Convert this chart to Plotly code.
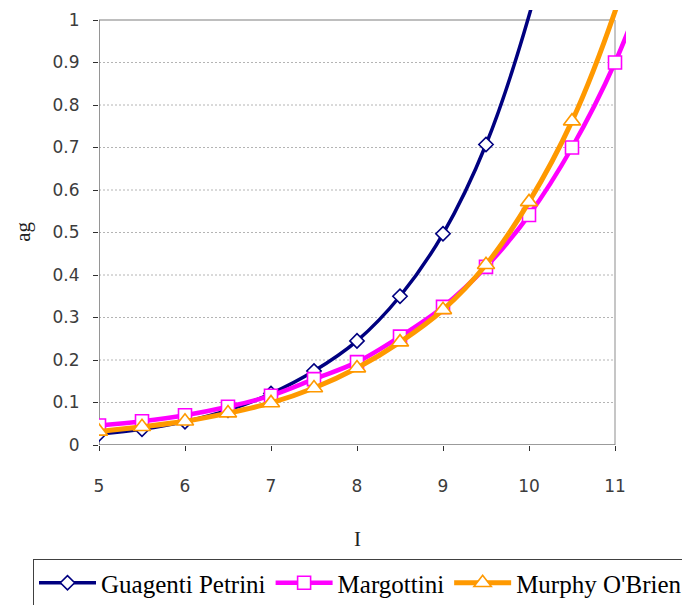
import plotly.graph_objects as go

# Macroseismic intensity I and peak ground acceleration ag (g)
intensity = [5.0, 5.5, 6.0, 6.5, 7.0, 7.5, 8.0, 8.5, 9.0, 9.5, 10.0, 10.5, 11.0, 11.5]

guagenti_petrini = [0.026, 0.037, 0.055, 0.082, 0.121, 0.174, 0.245, 0.350, 0.497, 0.707, 1.01, 1.42, 2.00, 2.84]
margottini = [0.046, 0.056, 0.070, 0.090, 0.116, 0.155, 0.195, 0.255, 0.325, 0.419, 0.541, 0.700, 0.900, 1.16]
murphy_obrien = [0.032, 0.043, 0.056, 0.075, 0.099, 0.134, 0.181, 0.242, 0.318, 0.424, 0.572, 0.762, 1.02, 1.36]

x_ticks = [5, 6, 7, 8, 9, 10, 11]
y_ticks = [0, 0.1, 0.2, 0.3, 0.4, 0.5, 0.6, 0.7, 0.8, 0.9, 1]

series = [
    ("Guagenti Petrini", guagenti_petrini, "#000080", 3.5, "diamond", 11),
    ("Margottini", margottini, "#FF00FF", 4.5, "square", 13),
    ("Murphy O'Brien", murphy_obrien, "#FF9900", 5, "triangle-up", 15),
]

X_MIN, X_MAX = 5, 11
Y_MIN, Y_MAX = 0, 1

# page geometry (px)
W, H = 682, 605
ML, MT, MB = 99, 10, 160
PLOT_W = 527          # drawing width of the x axis
GS_W = W - ML         # full plotting box width (right margin 0)

fig = go.Figure()
for name, vals, color, lw, sym, size in series:
    # markers are only shown inside the 0..1 frame
    fill = ["white" if v <= Y_MAX else "rgba(0,0,0,0)" for v in vals]
    edge = [color if v <= Y_MAX else "rgba(0,0,0,0)" for v in vals]
    fig.add_trace(go.Scatter(
        x=intensity, y=vals, name=name, mode="lines+markers",
        line=dict(color=color, width=lw, shape="spline", smoothing=1),
        marker=dict(symbol=sym, size=size, color=fill,
                    line=dict(color=edge, width=1.6)),
    ))

shapes = []
# dotted gridlines
for v in y_ticks[1:-1]:
    shapes.append(dict(type="line", xref="x", yref="y", x0=X_MIN, x1=X_MAX, y0=v, y1=v,
                       line=dict(color="#b4b4b4", width=1, dash="2px,2px"), layer="below"))
# frame
shapes.append(dict(type="line", xref="x", yref="y", x0=X_MIN, x1=X_MAX, y0=Y_MAX, y1=Y_MAX,
                   line=dict(color="#a8a8a8", width=1.3), layer="below"))
shapes.append(dict(type="line", xref="x", yref="y", x0=X_MAX, x1=X_MAX, y0=Y_MIN, y1=Y_MAX,
                   line=dict(color="#a8a8a8", width=1.3), layer="below"))
shapes.append(dict(type="line", xref="x", yref="y", x0=X_MIN, x1=X_MIN, y0=Y_MIN, y1=Y_MAX,
                   line=dict(color="#7a7a7a", width=1.6), layer="below"))
shapes.append(dict(type="line", xref="x", yref="y", x0=X_MIN, x1=X_MAX, y0=Y_MIN, y1=Y_MIN,
                   line=dict(color="#7a7a7a", width=1.6), layer="below"))

tick_font = dict(family="DejaVu Sans", size=17, color="#3c3c3c")
serif = "Liberation Serif"

fig.update_layout(
    width=W, height=H,
    font=dict(family=serif, color="black"),
    margin=dict(l=ML, r=0, t=MT, b=MB, autoexpand=False),
    paper_bgcolor="white", plot_bgcolor="white",
    shapes=shapes,
    showlegend=True,
    legend=dict(
        orientation="h", x=(33 - ML) / GS_W, y=(H - MB - 559) / (H - MB - MT),
        xanchor="left", yanchor="top",
        font=dict(family=serif, size=25, color="black"),
        bordercolor="#404040", borderwidth=1, bgcolor="white",
        itemwidth=57, tracegroupgap=0,
    ),
    xaxis=dict(
        domain=[0, PLOT_W / GS_W],
        range=[5, 5 + PLOT_W / 86], tickvals=x_ticks, ticktext=[str(t) for t in x_ticks],
        showgrid=False, zeroline=False, showline=False,
        ticks="outside", ticklen=5, tickwidth=1, tickcolor="#303030",
        tickfont=tick_font, ticklabelstandoff=21,
    ),
    yaxis=dict(
        range=[0, 435 / 425], tickvals=y_ticks, ticktext=[f"{t:g}" for t in y_ticks],
        showgrid=False, zeroline=False, showline=False,
        ticks="outside", ticklen=5, tickwidth=1, tickcolor="#303030",
        tickfont=tick_font, ticklabelstandoff=10,
    ),
    annotations=[
        dict(text="I", xref="x", yref="paper", x=8, y=(H - MB - 539) / (H - MB - MT),
             showarrow=False, xanchor="center", yanchor="middle",
             font=dict(family=serif, size=21, color="#222")),
        dict(text="ag", xref="paper", yref="paper", x=(23 - ML) / GS_W, y=0.49,
             showarrow=False, textangle=-90, xanchor="center", yanchor="middle",
             font=dict(family=serif, size=21, color="#222")),
    ],
)

fig.write_html("out.html")
